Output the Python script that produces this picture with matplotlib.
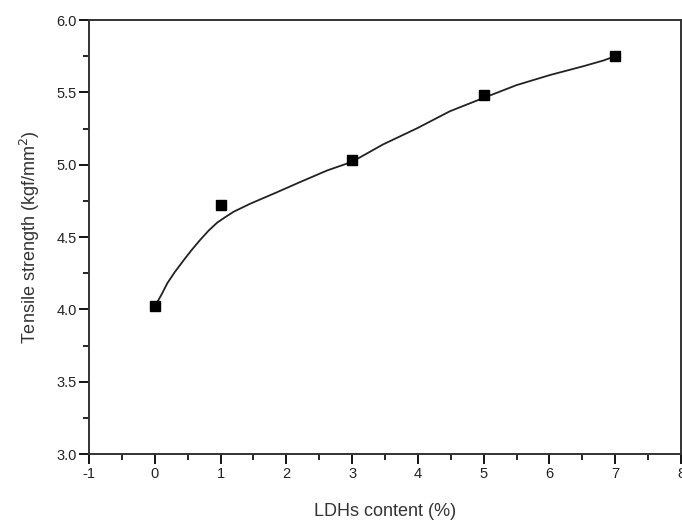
import matplotlib.pyplot as plt
from matplotlib.ticker import MultipleLocator

plt.rcParams['font.family'] = ['Liberation Sans', 'DejaVu Sans']
plt.rcParams['axes.unicode_minus'] = False

# measured tensile strength vs LDHs loading
ldh_content = [0, 1, 3, 5, 7]
tensile = [4.02, 4.72, 5.03, 5.48, 5.75]

# fitted trend curve
fit_x = [0.0, 0.1, 0.19, 0.3, 0.44, 0.56, 0.69, 0.82, 0.95, 1.08, 1.20, 1.45,
         1.86, 2.21, 2.62, 3.0, 3.47, 3.98, 4.49, 4.99, 5.50, 6.01, 6.51,
         6.82, 7.0]
fit_y = [4.02, 4.10, 4.18, 4.255, 4.34, 4.41, 4.48, 4.545, 4.60, 4.64, 4.675,
         4.73, 4.81, 4.88, 4.96, 5.02, 5.14, 5.25, 5.37, 5.46, 5.55, 5.62,
         5.68, 5.72, 5.75]

fig = plt.figure(figsize=(6.82, 5.27), dpi=100)
ax = fig.add_axes([0.1305, 0.1385, 0.868, 0.8235])

ax.plot(fit_x, fit_y, color='#222222', lw=1.3)
ax.plot(ldh_content, tensile, 's', color='black', ms=6.5)

ax.set_xlim(-1, 8)
ax.set_ylim(3.0, 6.0)
ax.xaxis.set_major_locator(MultipleLocator(1))
ax.xaxis.set_minor_locator(MultipleLocator(0.5))
ax.yaxis.set_major_locator(MultipleLocator(0.5))
ax.yaxis.set_minor_locator(MultipleLocator(0.25))
ax.set_yticklabels(['%.1f' % v for v in ax.get_yticks()])

ax.tick_params(which='major', direction='out', length=7, width=1.3,
               labelsize=10.5, labelcolor='#222222', top=False, right=False, pad=2)
ax.tick_params(which='minor', direction='out', length=4, width=1.2,
               top=False, right=False)
for s in ax.spines.values():
    s.set_linewidth(1.4)
    s.set_color('#333333')

ax.set_xlabel('LDHs content (%)', fontsize=13, color='#333333', labelpad=16)
ax.set_ylabel('Tensile strength (kgf/mm$^2$)', fontsize=13, color='#333333', labelpad=10)

fig.savefig('out.png', dpi=100)
